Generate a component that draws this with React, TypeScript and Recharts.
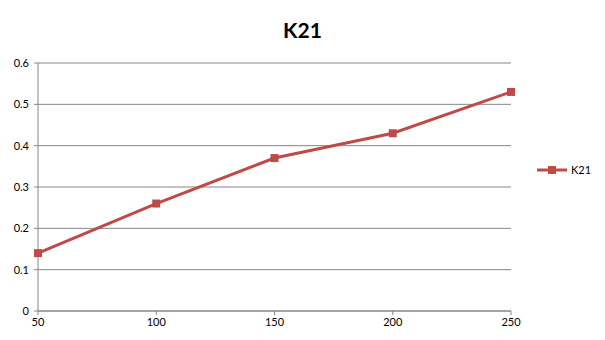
import { LineChart, Line, XAxis, YAxis, CartesianGrid } from "recharts";

const xValues = [50, 100, 150, 200, 250];
const k21 = [0.14, 0.26, 0.37, 0.43, 0.53];
const xTicks = [50, 100, 150, 200, 250];
const yTicks = [0, 0.1, 0.2, 0.3, 0.4, 0.5, 0.6];

const RED = "#BE4B48";
const GRAY = "#868686";
const FONT = "Lato, 'Open Sans', sans-serif";

const data = xValues.map((x, i) => ({ x, k21: k21[i] }));

function SquareDot(props: any) {
  const { cx, cy } = props;
  if (cx == null || cy == null) return null;
  return <rect x={cx - 4} y={cy - 4} width={8} height={8} fill={RED} />;
}

function LegendBox() {
  return (
    <svg width={70} height={16}>
      <line x1={4} y1={8} x2={34} y2={8} stroke={RED} strokeWidth={3} />
      <rect x={15} y={4} width={8} height={8} fill={RED} />
      <text x={38} y={12} fontSize={11} fontFamily={FONT} fill="#000">
        K21
      </text>
    </svg>
  );
}

export default function App() {
  return (
    <div
      style={{
        position: "absolute",
        left: 0,
        top: 0,
        width: 605,
        height: 340,
        background: "#fff",
        fontFamily: FONT,
      }}
    >
      <div
        style={{
          position: "absolute",
          left: 0,
          width: 605,
          top: 16,
          textAlign: "center",
          fontSize: 21,
          fontWeight: 700,
          color: "#000",
          lineHeight: "28px",
        }}
      >
        K21
      </div>
      <LineChart
        width={605}
        height={340}
        data={data}
        margin={{ top: 63, right: 94, left: 0, bottom: 0 }}
      >
        <CartesianGrid vertical={false} stroke={GRAY} />
        <XAxis
          dataKey="x"
          type="number"
          domain={[50, 250]}
          ticks={xTicks}
          height={29}
          stroke={GRAY}
          tickSize={4}
          tickMargin={3}
          tick={{ fill: "#000", fontSize: 11, fontFamily: FONT }}
        />
        <YAxis
          domain={[0, 0.6]}
          ticks={yTicks}
          width={38}
          stroke={GRAY}
          tickSize={4}
          tickMargin={5}
          tick={{ fill: "#000", fontSize: 11, fontFamily: FONT }}
        />
        <Line
          dataKey="k21"
          name="K21"
          stroke={RED}
          strokeWidth={3}
          dot={<SquareDot />}
          activeDot={false}
          isAnimationActive={false}
        />
      </LineChart>
      <div style={{ position: "absolute", left: 533, top: 162 }}>
        <LegendBox />
      </div>
    </div>
  );
}
